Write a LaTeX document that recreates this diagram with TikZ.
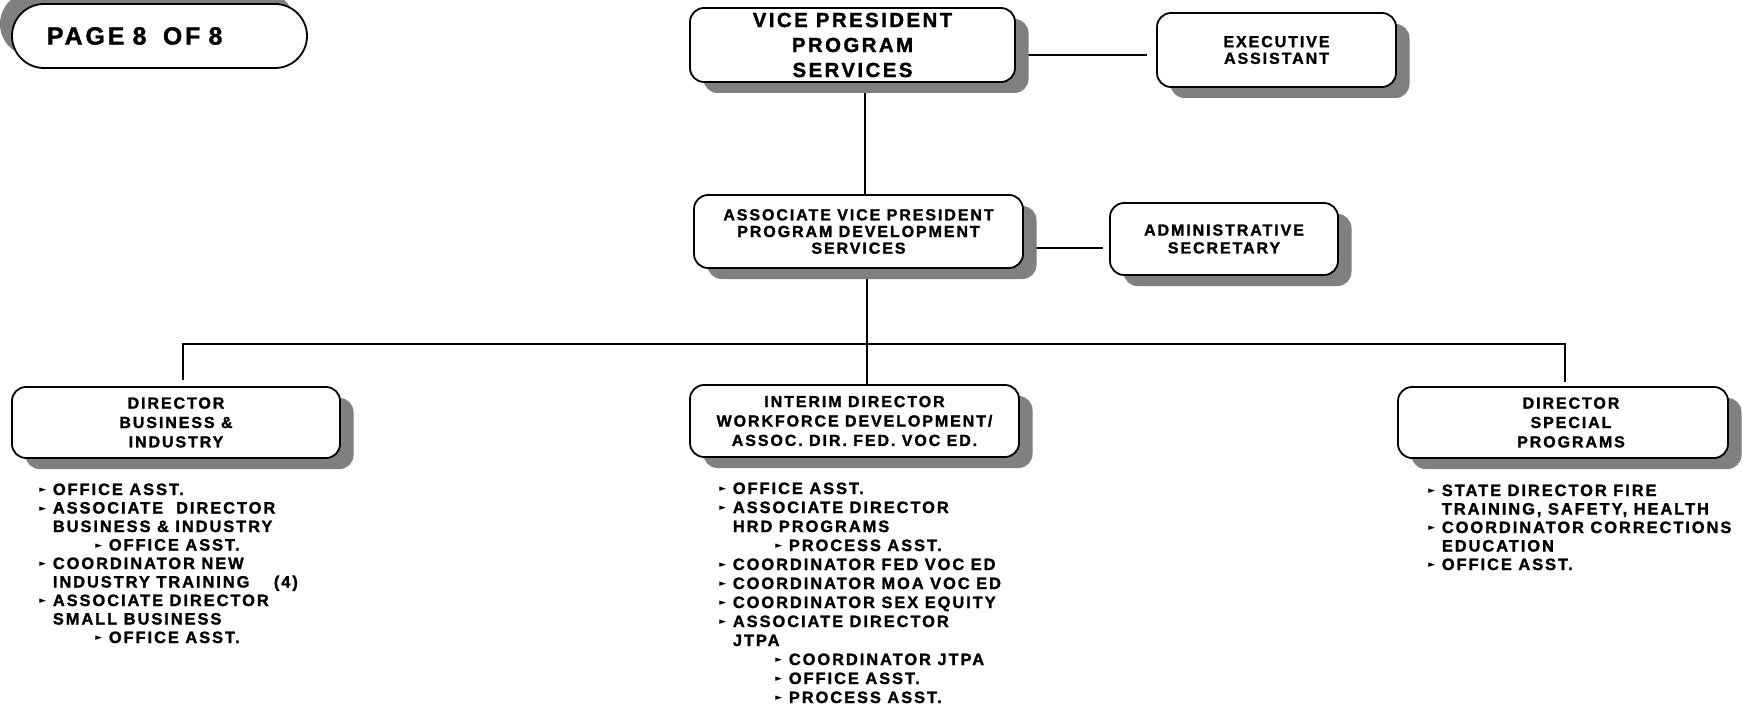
\documentclass[tikz,border=0pt]{standalone}
\usepackage{fontspec}
\usetikzlibrary{shadows,backgrounds}
\newfontfamily\orgfont[LetterSpace=12, BoldFeatures={FakeBold=1.5}]{Liberation Sans}
\newfontfamily\symfont{DejaVu Sans}
\definecolor{shadowgray}{RGB}{128,128,128}
% list markers
\newcommand{\bul}{\makebox[6.75pt][l]{\raisebox{1.2pt}{\symfont\fontsize{4.5}{5}\selectfont ►}}}
\newcommand{\subbul}{\hspace*{28pt}\bul}
\newcommand{\cont}{\hspace*{6.75pt}}
\newcommand{\rpad}{\hspace*{8pt}}
\begin{document}
\begin{tikzpicture}[x=0.5pt,y=-0.5pt,
  box/.style={draw, line width=0.9pt, fill=white, rounded corners=7pt,
    align=center, inner sep=0pt,
    drop shadow={shadow xshift=6.75pt, shadow yshift=-5.5pt, fill=shadowgray, opacity=1},
    font=\orgfont\bfseries\fontsize{8}{8.35}\selectfont},
  link/.style={line width=0.8pt},
  % lists are placed by the baseline of their last line
  listtext/.style={align=left, inner sep=0pt, anchor=base west,
    font=\orgfont\bfseries\fontsize{8.2}{9.25}\selectfont}]
\useasboundingbox (0,0) rectangle (1742,706);

% page tag
\node[draw, line width=0.9pt, fill=white, rounded corners=16pt,
  minimum width=147.5pt, minimum height=32pt, inner ysep=0pt, inner xsep=17.5pt,
  text width=112.5pt, align=left,
  drop shadow={shadow xshift=-6pt, shadow yshift=6pt, fill=shadowgray, opacity=1},
  font=\orgfont\bfseries\fontsize{12.4}{14}\selectfont] (page) at (159.5,36) {PAGE 8\ \ OF 8};

% boxes
\node[box, minimum width=162.5pt, minimum height=37pt,
  font=\orgfont\bfseries\fontsize{10.2}{12.5}\selectfont] (vp) at (852.5,45)
  {VICE PRESIDENT\\PROGRAM\\SERVICES};
\node[box, minimum width=119.5pt, minimum height=37pt] (ea) at (1276.5,50)
  {EXECUTIVE\\ASSISTANT};
\node[box, minimum width=164.5pt, minimum height=36.5pt] (avp) at (858.5,231.5)
  {ASSOCIATE VICE PRESIDENT\\PROGRAM DEVELOPMENT\\SERVICES};
\node[box, minimum width=114pt, minimum height=36pt,
  font=\orgfont\bfseries\fontsize{8}{8.9}\selectfont] (as) at (1224,239)
  {ADMINISTRATIVE\\SECRETARY};
\node[box, minimum width=164pt, minimum height=35.5pt,
  font=\orgfont\bfseries\fontsize{8}{9.7}\selectfont] (dbi) at (176,422.5)
  {DIRECTOR\\BUSINESS \&\\INDUSTRY};
\node[box, minimum width=164.5pt, minimum height=36pt,
  font=\orgfont\bfseries\fontsize{8}{9.7}\selectfont] (idw) at (854.5,421)
  {INTERIM DIRECTOR\\WORKFORCE DEVELOPMENT/\\ASSOC. DIR. FED. VOC ED.};
\node[box, minimum width=165pt, minimum height=35.5pt,
  font=\orgfont\bfseries\fontsize{8}{9.7}\selectfont] (dsp) at (1563,422.5)
  {\rpad DIRECTOR\\\rpad SPECIAL\\\rpad PROGRAMS};

% staff lists
\node[listtext] (bilist) at (39,643) {\bul OFFICE ASST.\\
  \bul ASSOCIATE\ \ DIRECTOR\\
  \cont BUSINESS \& INDUSTRY\\
  \subbul OFFICE ASST.\\
  \bul COORDINATOR NEW\\
  \cont\makebox[110.5pt][l]{INDUSTRY TRAINING}(4)\\
  \bul ASSOCIATE DIRECTOR\\
  \cont SMALL BUSINESS\\
  \subbul OFFICE ASST.};
\node[listtext, font=\orgfont\bfseries\fontsize{8.2}{9.5}\selectfont] (wdlist) at (719,703) {\bul OFFICE ASST.\\
  \bul ASSOCIATE DIRECTOR\\
  \cont HRD PROGRAMS\\
  \subbul PROCESS ASST.\\
  \bul COORDINATOR FED VOC ED\\
  \bul COORDINATOR MOA VOC ED\\
  \bul COORDINATOR SEX EQUITY\\
  \bul ASSOCIATE DIRECTOR\\
  \cont JTPA\\
  \subbul COORDINATOR JTPA\\
  \subbul OFFICE ASST.\\
  \subbul PROCESS ASST.};
\node[listtext] (splist) at (1428,570) {\bul STATE DIRECTOR FIRE\\
  \cont TRAINING, SAFETY, HEALTH\\
  \bul COORDINATOR CORRECTIONS\\
  \cont EDUCATION\\
  \bul OFFICE ASST.};

% reporting lines
\coordinate (r1) at (0,55);
\coordinate (r2) at (0,248);
\coordinate (t1) at (865,0);
\coordinate (t2) at (867,0);
\coordinate (busL) at (183,344);
\coordinate (busR) at (1565,344);
\begin{scope}[on background layer]
  \fill[white] (0,0) rectangle (1742,706);
  \draw[link] (vp.east |- r1) -- ([xshift=-4.5pt]ea.west |- r1);
  \draw[link] (avp.east |- r2) -- ([xshift=-3pt]as.west |- r2);
  \draw[link] (vp.south -| t1) -- (avp.north -| t1);
  \draw[link] (avp.south -| t2) -- (idw.north -| t2);
  \draw[link] ([yshift=3pt]dbi.north -| busL) -- (busL) -- (busR)
    -- ([yshift=2pt]dsp.north -| busR);
\end{scope}
\end{tikzpicture}
\end{document}
